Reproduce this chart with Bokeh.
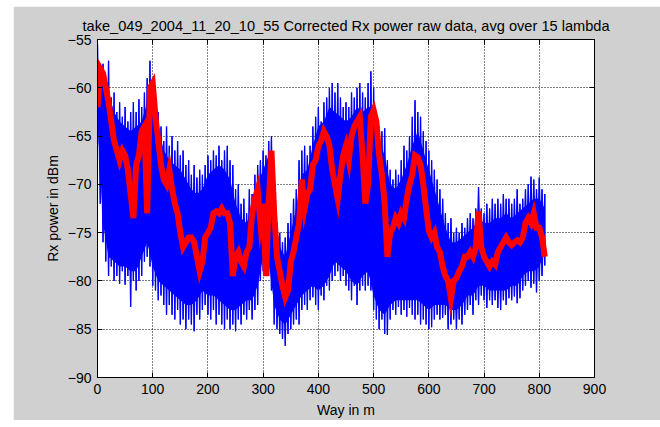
from bokeh.plotting import figure
from bokeh.models import FixedTicker, LinearAxis, Range1d
from bokeh.embed import file_html
from bokeh.resources import INLINE

TITLE = "take_049_2004_11_20_10_55 Corrected Rx power raw data, avg over 15 lambda"
X_LABEL = "Way in m"
Y_LABEL = "Rx power in dBm"
x_ticks = [0, 100, 200, 300, 400, 500, 600, 700, 800, 900]
y_ticks = [-90, -85, -80, -75, -70, -65, -60, -55]

# sample positions (m)
way = [0, 5, 10, 15, 20, 25, 30, 35, 40, 45, 50, 55, 60, 65, 70, 75, 80, 85, 90, 95,
       100, 105, 110, 115, 120, 125, 130, 135, 140, 145, 150, 155, 160, 165, 170, 175, 180, 185, 190, 195,
       200, 205, 210, 215, 220, 225, 230, 235, 240, 245, 250, 255, 260, 265, 270, 275, 280, 285, 290, 295,
       300, 305, 310, 315, 320, 325, 330, 335, 340, 345, 350, 355, 360, 365, 370, 375, 380, 385, 390, 395,
       400, 405, 410, 415, 420, 425, 430, 435, 440, 445, 450, 455, 460, 465, 470, 475, 480, 485, 490, 495,
       500, 505, 510, 515, 520, 525, 530, 535, 540, 545, 550, 555, 560, 565, 570, 575, 580, 585, 590, 595,
       600, 605, 610, 615, 620, 625, 630, 635, 640, 645, 650, 655, 660, 665, 670, 675, 680, 685, 690, 695,
       700, 705, 710, 715, 720, 725, 730, 735, 740, 745, 750, 755, 760, 765, 770, 775, 780, 785, 790, 795,
       800, 805, 810]

# raw data: spike maxima / minima of the blue trace (dBm)
raw_high = [-55.5, -58, -57.5, -60, -57.2, -61, -60.5, -62.5, -61.5, -63, -62, -63.5, -62.5, -61.5, -62.5, -61.2, -62, -60.5, -59, -57.2,
            -59.5, -61, -62.5, -64, -65.5, -64, -66, -65, -66.5, -65.5, -67, -66.5, -68, -67.5, -69, -68, -69.3, -68.5, -69, -68,
            -67, -67.5, -66.5, -67, -66, -67.5, -66.5, -66, -67.5, -68, -70.5, -70, -72, -71.5, -73, -70.5, -71, -69, -68, -67.5,
            -66.5, -67, -65.5, -65, -70, -74, -75, -76, -75.5, -74, -73, -71.5, -70.5, -67.5, -66.5, -66, -67, -66, -64, -63,
            -62, -63.5, -61.5, -61, -60, -59.5, -60.5, -59.5, -61, -62, -61.5, -62, -60.5, -61, -60, -59.5, -60.5, -61, -59.5, -58.3,
            -60, -62.5, -64, -64.5, -64.2, -67.5, -68.5, -69.5, -68.5, -69, -67.5, -66, -66.5, -65, -63, -61.3, -62.5, -63, -64.5, -65.5,
            -66.5, -67.5, -68.5, -69.5, -70.5, -71.5, -73, -74, -73.5, -75, -74.5, -75, -74, -74.5, -73.5, -73, -73.5, -72.5, -70.3, -72.5,
            -73, -72, -72.5, -71.5, -72, -71.5, -72, -71, -71.5, -71.5, -72, -71.5, -70.5, -72, -71.5, -70.5, -70, -69.2, -69.5, -70.5,
            -69.3, -70.5, -71]
raw_low = [-66, -72, -76, -78, -79.5, -78.5, -80, -79.5, -80.3, -79, -80.4, -79.5, -82.7, -80, -81, -80, -79.5, -78, -77.5, -78.5,
           -80.5, -81, -82, -81.5, -82.5, -83.5, -82.5, -83.5, -84, -83, -84.5, -84, -85, -84, -84.5, -85.2, -83.5, -84, -83, -82.5,
           -83.5, -84, -83, -84.5, -83.5, -84.5, -85, -84, -85, -84.5, -85.2, -84, -84.5, -83.5, -84, -83, -84, -83, -82.5, -80,
           -79, -78.7, -79.5, -81, -84.5, -85, -85.5, -86, -86.7, -85.5, -85, -84.5, -84, -84.5, -83, -82.5, -83, -82, -81.7, -82.5,
           -83, -81.5, -82, -80.5, -81, -80, -79.5, -79, -80, -79.5, -80.5, -81, -82, -80.5, -82.5, -81, -80.5, -81, -80.5, -81,
           -83, -84, -85, -84, -85.5, -85.6, -84, -83, -83.5, -82.7, -83.5, -83, -83.7, -82.8, -83.5, -84, -83.5, -84.5, -84, -84.5,
           -85, -84.8, -84, -83.5, -84, -83.8, -83.5, -85, -84.5, -84, -85, -84, -84.5, -83.5, -83, -82.5, -83.5, -82, -82.5, -81.5,
           -82, -82.8, -82, -82.5, -82, -82.8, -83, -82, -82.5, -81.8, -82, -81.6, -82.3, -81.8, -81, -80.5, -80, -80.7, -80.3, -81.2,
           -80, -79.5, -78.4]

# dense body of the raw trace, every 10 m (dBm)
body_way = [0, 10, 20, 30, 40, 50, 60, 70, 80, 90, 100, 110, 120, 130, 140, 150, 160, 170, 180, 190,
            200, 210, 220, 230, 240, 250, 260, 270, 280, 290, 300, 310, 320, 330, 340, 350, 360, 370, 380, 390,
            400, 410, 420, 430, 440, 450, 460, 470, 480, 490, 500, 510, 520, 530, 540, 550, 560, 570, 580, 590,
            600, 610, 620, 630, 640, 650, 660, 670, 680, 690, 700, 710, 720, 730, 740, 750, 760, 770, 780, 790,
            800, 810]
body_high = [-57, -59.5, -60.5, -62.5, -63.5, -64, -64.5, -64, -63.5, -61.5, -61.5, -64, -66.5, -67.5, -68, -68.5, -69.5, -70.5, -71, -70.5,
             -69, -68.5, -68, -68.5, -69.5, -72, -73.5, -74, -72.5, -70, -68.5, -67, -72, -76.5, -77.5, -75, -72.5, -69, -68.5, -66,
             -64, -63.5, -62, -62.5, -63, -63.5, -63, -62, -62.5, -62, -62, -65.5, -67, -70, -70.5, -69.5, -68, -66, -64.5, -66.5,
             -68.5, -70.5, -72.5, -74.5, -76, -76, -75.5, -75, -74.5, -73.5, -74, -74, -73.5, -73.5, -73, -73.5, -73, -72.5, -72, -71.5,
             -71.5, -72.5]
body_low = [-63, -74, -77.5, -78, -78.5, -78.5, -79, -79, -77.5, -76, -78.5, -80, -80.5, -81, -81.5, -82, -82.5, -82.5, -82, -81,
            -81.5, -81.5, -82, -82.5, -83, -83, -82.5, -82, -82, -80.5, -77.5, -78, -82.5, -84, -84.5, -83.5, -82.5, -81.5, -81, -80.5,
            -81, -80.5, -79.5, -78, -78.5, -79, -80, -80.5, -79.5, -79, -81.5, -83, -83.5, -82.5, -82, -82, -82, -82, -82, -82.5,
            -83, -82.5, -82.5, -82.5, -83, -83, -82.5, -81.5, -81.5, -80.5, -80.5, -81, -81, -81, -81, -80.5, -80.5, -79.5, -79, -79,
            -78.5, -77]

# averaged data over 15 lambda (dBm)
avg_power = [-62, -58, -58.5, -60, -61.5, -63.5, -65.5, -66.5, -67.5, -66.5, -67, -68.5, -71, -73.5, -68, -67, -64.5, -64, -73, -60,
             -59.5, -63, -65.5, -68, -69.5, -70, -68.5, -70.5, -72, -73, -75, -76.5, -76, -75.5, -75.5, -76, -77.5, -79, -78, -75.5,
             -75, -74.5, -73, -72.8, -73, -72.5, -73, -73, -74, -79.5, -77.5, -77, -78, -78.5, -77, -76.5, -73, -71.5, -70.5, -74,
             -72, -79.5, -72, -66.5, -73, -77.5, -79, -80.5, -81.7, -81, -78, -77, -75.5, -74, -69.5, -72.5, -71, -70.5, -68, -67.5,
             -66, -65.5, -64.5, -65, -66, -68.5, -70, -71.5, -69, -67, -66, -67.5, -65, -64, -63.5, -63, -67, -72, -70, -63,
             -62.3, -63.5, -67, -69, -72, -77.5, -75, -74.5, -73.5, -74, -73, -73.5, -71.5, -70, -69, -67, -67.2, -68, -70, -72.5,
             -74.8, -75.5, -75, -76.5, -77, -78.5, -79.5, -80, -81.8, -80, -79.7, -79, -78.5, -77.5, -77.5, -77, -77.5, -76.5, -72.8, -76.5,
             -77.5, -78, -78.5, -78, -78.3, -77, -76.5, -76, -75.5, -76, -76.3, -76, -75.8, -76, -75.5, -74, -73.5, -74, -73, -74.5,
             -74.5, -75.5, -77.5]

# zig-zag paths through the read spike maxima/minima of the raw trace
zig_x, zig_y, zag_y = [], [], []
for xv, hi, lo in zip(way, raw_high, raw_low):
    zig_x += [xv, xv]
    zig_y += [hi, lo]
    zag_y += [lo, hi]

FONT = "Liberation Sans"

p = figure(width=647, height=414, x_range=Range1d(0, 900), y_range=Range1d(-90, -55),
           output_backend="svg", toolbar_location=None,
           min_border_left=84, min_border_right=66, min_border_top=33, min_border_bottom=35,
           background_fill_color="white", border_fill_color="#d0d0d0",
           outline_line_color="black", outline_line_width=1, margin=(6, 0, 7, 13))

p.title.text = TITLE
p.title.align = "center"
p.title.text_font = FONT
p.title.text_font_size = "14.6px"
p.title.text_font_style = "normal"
p.title.text_color = "black"
p.title.standoff = 12

for ax in (p.xaxis[0], p.yaxis[0]):
    ax.major_tick_in = 5
    ax.major_tick_out = 0
    ax.minor_tick_line_color = None
    ax.axis_line_color = "black"
    ax.major_tick_line_color = "black"
    ax.major_label_text_font = FONT
    ax.major_label_text_font_size = "14px"
    ax.major_label_text_color = "black"
    ax.axis_label_text_font = FONT
    ax.axis_label_text_font_size = "14px"
    ax.axis_label_text_font_style = "normal"
    ax.axis_label_text_color = "black"

p.xaxis.ticker = FixedTicker(ticks=x_ticks)
p.yaxis.ticker = FixedTicker(ticks=y_ticks)
p.xaxis.axis_label = X_LABEL
p.yaxis.axis_label = Y_LABEL
p.xaxis.major_label_standoff = 6
p.yaxis.major_label_standoff = 6
p.xaxis.axis_label_standoff = 5
p.yaxis.axis_label_standoff = 4

for g, t in ((p.xgrid, x_ticks), (p.ygrid, y_ticks)):
    g.ticker = FixedTicker(ticks=t)
    g.grid_line_color = "black"
    g.grid_line_dash = "1 2"
    g.grid_line_width = 1

p.varea(x=body_way, y1=body_low, y2=body_high, fill_color="#0000ff", fill_alpha=1)
p.line(zig_x, zig_y, line_color="#0000ff", line_width=1.2)
p.line(zig_x, zag_y, line_color="#0000ff", line_width=1.2)
p.line(way, avg_power, line_color="#ff0000", line_width=6, line_join="miter")

top_ax = LinearAxis(ticker=FixedTicker(ticks=x_ticks), major_label_text_color=None,
                    major_tick_in=5, major_tick_out=0, minor_tick_line_color=None,
                    major_label_standoff=0, axis_line_color="black")
right_ax = LinearAxis(ticker=FixedTicker(ticks=y_ticks), major_label_text_color=None,
                      major_tick_in=5, major_tick_out=0, minor_tick_line_color=None,
                      major_label_standoff=0, axis_line_color="black")
p.add_layout(top_ax, "above")
p.add_layout(right_ax, "right")

open("out.html", "w").write(file_html(p, INLINE))
